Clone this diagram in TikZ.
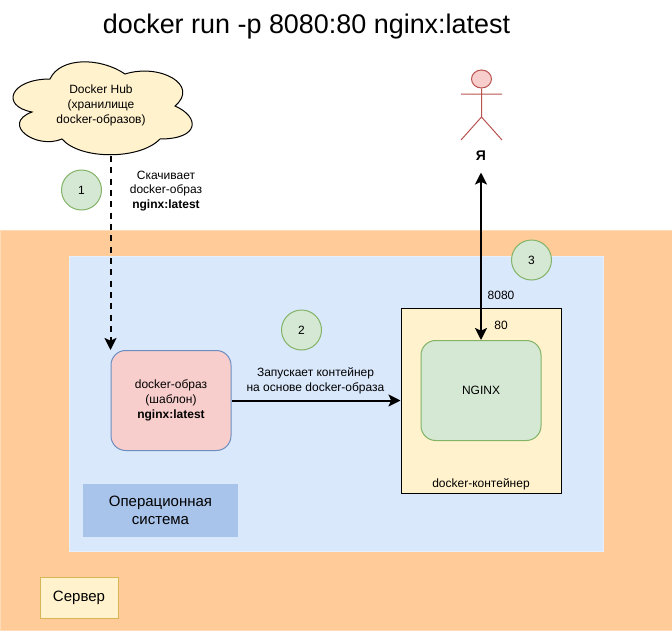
\documentclass[tikz,border=0pt]{standalone}
\usepackage{fontspec}
\setmainfont{Liberation Sans}
\usetikzlibrary{positioning,arrows.meta,shapes.geometric}

\definecolor{srvorange}{HTML}{FFCC99}
\definecolor{osblue}{HTML}{DAE8FC}
\definecolor{oslabel}{HTML}{A9C4EB}
\definecolor{yellowbg}{HTML}{FFF2CC}
\definecolor{yellowln}{HTML}{D6B656}
\definecolor{greenbg}{HTML}{D5E8D4}
\definecolor{greenln}{HTML}{82B366}
\definecolor{redbg}{HTML}{F8CECC}
\definecolor{redln}{HTML}{B85450}
\definecolor{blueln}{HTML}{6C8EBF}

\begin{document}
\begin{tikzpicture}[x=0.75pt, y=-0.75pt, line width = 0.75pt,
  every node/.style = {inner sep = 0pt, align = center, font = \fontsize{9}{11}\selectfont},
  stepmark/.style = {draw = greenln, fill = greenbg, circle, minimum size = 30pt},
  bigtext/.style = {font = \fontsize{11.25}{13.5}\selectfont},
  link/.style = {line width = 1.5pt, -{Stealth[length = 9pt, width = 9pt, inset = 2pt]}}]

  \useasboundingbox (0,0) rectangle (672,632);

  \node (title) at (306.5,27) {\fontsize{20.2}{24}\selectfont docker run -p 8080:80 nginx:latest};

  % backgrounds
  \node[fill = srvorange, draw = srvorange!70!white, minimum width = 504pt, minimum height = 300pt] (server) at (336,430) {};
  \node[fill = osblue, draw = osblue!70!white, minimum width = 400.5pt, minimum height = 221.25pt] (os) at (336,403.5) {};
  \node[fill = oslabel, minimum width = 116.25pt, minimum height = 39.75pt, bigtext] (oslabel) at (160.5,510.5) {Операционная\\система};
  \node[fill = yellowbg, draw = yellowln, minimum width = 58.5pt, minimum height = 30.75pt, bigtext] (srvlabel) at (79,597.5) {Сервер};

  % cloud
  \draw[fill = yellowbg, draw = black]
    (50,79) .. controls (10,79) and (0,106) .. (32,112)
    .. controls (0,124) and (36,150) .. (62,139)
    .. controls (80,160) and (140,160) .. (160,139)
    .. controls (200,139) and (200,117) .. (175,106)
    .. controls (200,85) and (160,63) .. (125,74)
    .. controls (100,57) and (60,57) .. (50,79) -- cycle;
  \node[minimum height = 75pt] (hub) at (101,105.5) {Docker Hub\\(хранилище\\docker-образов)};

  \node[fill = redbg, draw = blueln, rounded corners = 11pt, minimum width = 90pt, minimum height = 75pt] (image) at (171,400.5)
    {docker-образ\\(шаблон)\\\textbf{nginx:latest}};

  \node[fill = yellowbg, draw = black, minimum width = 120pt, minimum height = 138.75pt] (box) at (481,400.5) {};
  \node[fill = greenbg, draw = greenln, rounded corners = 11pt, minimum width = 90pt, minimum height = 75pt] (nginx) at (481,390.5) {NGINX};
  \node (boxname) at (481,484) {docker-контейнер};

  % stick figure
  \node[ellipse, draw = redln, fill = redbg, minimum width = 15pt, minimum height = 13.5pt] (head) at (481.5,79) {};
  \coordinate (hip) at (481.5,117);
  \coordinate (handl) at (461,94);
  \coordinate (handr) at (502,94);
  \coordinate (footl) at (461,140);
  \coordinate (footr) at (502,140);
  \draw[draw = redln] (head)--(hip) (handl)--(handr) (footl)--(hip)--(footr);
  \node[minimum height = 24pt, font = \fontsize{10.5}{12}\selectfont] (me) at (481,156) {\textbf{Я}};

  \node[stepmark] (one) at (81.5,190) {1};
  \node[stepmark] (two) at (301.5,330) {2};
  \node[stepmark] (three) at (531.5,260) {3};

  \node (pull) at (166,191) {Скачивает\\docker-образ\\\textbf{nginx:latest}};
  \node (run) at (315.5,381) {Запускает контейнер\\на основе docker-образа};
  \node (hostport) at (501,295) {8080};
  \node (innerport) at (501,325) {80};

  \draw[link, dash pattern = on 4.5pt off 4pt] (hub.south -| image.north west) -- (image.north west);
  \draw[link] (image.east) -- (box.west);
  \draw[link, {Stealth[length = 9pt, width = 9pt, inset = 2pt]}-{Stealth[length = 9pt, width = 9pt, inset = 2pt]}] (me.south) -- (nginx.north);
\end{tikzpicture}
\end{document}
